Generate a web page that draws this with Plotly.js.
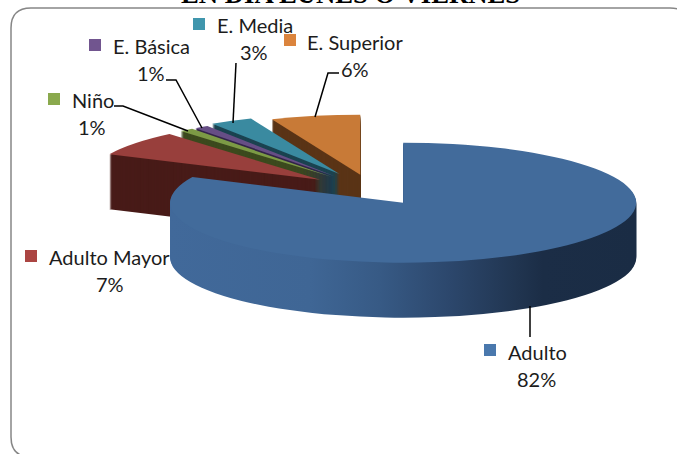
<!DOCTYPE html>
<html>
<head>
<meta charset="utf-8">
<script src="https://cdn.plot.ly/plotly-3.0.1.min.js"></script>
<style>html,body{margin:0;padding:0;background:#fff;overflow:hidden}#chart{width:677px;height:454px}</style>
</head>
<body>
<div id="chart"></div>
<script>
// Data
var categories = ['Adulto', 'Adulto Mayor', 'Niño', 'E. Básica', 'E. Media', 'E. Superior'];
var values = [82, 6.8, 1, 1, 3, 6.2];
var percentLabels = ['82%', '7%', '1%', '1%', '3%', '6%'];
var explode = [0.25, 0.28, 0.28, 0.28, 0.3, 0.26];
var topColors = ['#426b9b', '#983f3c', '#7c9a45', '#664e85', '#3a8aa0', '#c87a37'];
var sideColors = ['#2f4c73', '#481b18', '#3c4a1e', '#33244a', '#1b4350', '#5a3416'];
var keyColors = ['#4a78ad', '#ab4542', '#8aa94d', '#71558f', '#4096ad', '#db843d'];
var titleText = 'EN DIA LUNES O VIERNES';

var W = 677, H = 454;
var depth = 55, clear = 'rgba(0,0,0,0)';
var px = function (x) { return x / W; }, py = function (y) { return 1 - y / H; };

function pieLayer(colors) {
  return {
    type: 'pie', values: values, labels: categories, sort: false, direction: 'clockwise',
    rotation: 0, pull: explode, textinfo: 'none', hoverinfo: 'skip', showlegend: false,
    marker: { colors: colors, line: { width: 0 } }
  };
}
var data = [];
function only(cols, keep) { return cols.map(function (c, i) { return keep(i) ? c : clear; }); }
// The cut-away slices are painted first, the big slice in front of them
[function (i) { return i > 0; }, function (i) { return i === 0; }].forEach(function (keep) {
  for (var d = depth; d >= 0; d--) data.push(pieLayer(only(d === 0 ? topColors : sideColors, keep)));
});

// Leader lines and label placement (pixels in the picture)
var leaders = [
  [[530, 306], [530, 337]],
  [[315, 117], [328, 73], [339, 73]],
  [[233, 123], [236, 63]],
  [[202, 128], [176, 80], [166, 80]],
  [[188, 131], [123, 106], [114, 106]]
];
var labelPlace = [
  { key: [484, 344], name: [507, 352], pct: [536, 379] },
  { key: [25, 250], name: [48, 257], pct: [110, 284] },
  { key: [48, 93], name: [71, 100], pct: [92, 127] },
  { key: [89, 39], name: [112, 46], pct: [151, 73] },
  { key: [193, 18], name: [216, 25], pct: [254, 52] },
  { key: [284, 34], name: [306, 42], pct: [355, 69] }
];

var shapes = [];
var L = 11, T = 8, R = 690, B = 457, r = 20;
shapes.push({
  type: 'path', xref: 'paper', yref: 'paper', line: { color: '#868686', width: 1.5 },
  path: 'M' + px(L + r) + ',' + py(T) + ' L' + px(R - r) + ',' + py(T) +
    ' Q' + px(R) + ',' + py(T) + ' ' + px(R) + ',' + py(T + r) +
    ' L' + px(R) + ',' + py(B - r) + ' Q' + px(R) + ',' + py(B) + ' ' + px(R - r) + ',' + py(B) +
    ' L' + px(L + r) + ',' + py(B) + ' Q' + px(L) + ',' + py(B) + ' ' + px(L) + ',' + py(B - r) +
    ' L' + px(L) + ',' + py(T + r) + ' Q' + px(L) + ',' + py(T) + ' ' + px(L + r) + ',' + py(T) + ' Z'
});
leaders.forEach(function (pts) {
  shapes.push({
    type: 'path', xref: 'paper', yref: 'paper', line: { color: '#000', width: 1.5 },
    path: pts.map(function (p, i) { return (i ? 'L' : 'M') + px(p[0]) + ',' + py(p[1]); }).join(' ')
  });
});

var labelFont = { family: 'Lato, "Open Sans", sans-serif', size: 20, color: '#1c1c1c' };
var annotations = [];
categories.forEach(function (c, i) {
  var p = labelPlace[i];
  shapes.push({
    type: 'rect', xref: 'paper', yref: 'paper', line: { width: 0 }, fillcolor: keyColors[i],
    x0: px(p.key[0]), x1: px(p.key[0] + 12), y0: py(p.key[1]), y1: py(p.key[1] + 12)
  });
  annotations.push({
    xref: 'paper', yref: 'paper', x: px(p.name[0]), y: py(p.name[1]), xanchor: 'left', yanchor: 'middle',
    text: c, showarrow: false, font: labelFont, borderpad: 0
  });
  annotations.push({
    xref: 'paper', yref: 'paper', x: px(p.pct[0]), y: py(p.pct[1]), xanchor: 'center', yanchor: 'middle',
    text: percentLabels[i], showarrow: false, font: labelFont, borderpad: 0
  });
});
annotations.push({
  xref: 'paper', yref: 'paper', x: px(350), y: py(10), xanchor: 'center', yanchor: 'bottom',
  text: '<b>' + titleText + '</b>', showarrow: false, borderpad: 0,
  font: { family: '"Liberation Serif", serif', size: 26.7, color: '#000' }
});

var layout = {
  width: W, height: H, margin: { l: 0, r: 0, t: 0, b: 0 }, paper_bgcolor: '#fff', showlegend: false,
  shapes: shapes, annotations: annotations
};

Plotly.newPlot('chart', data, layout, { staticPlot: true, displayModeBar: false }).then(function () {
  var svg = document.querySelector('#chart .main-svg');
  var NS = 'http://www.w3.org/2000/svg';
  var grad = document.createElementNS(NS, 'linearGradient');
  grad.setAttribute('id', 'adultoSide');
  [[0, '#41699a'], [0.3, '#3f6695'], [0.45, '#375a85'], [0.6, '#2c476c'], [0.75, '#20344f'], [0.8, '#1b2d46'], [1, '#1a2c44']]
    .forEach(function (s) {
      var st = document.createElementNS(NS, 'stop');
      st.setAttribute('offset', s[0]);
      st.setAttribute('stop-color', s[1]);
      grad.appendChild(st);
    });
  var defs = svg.querySelector('defs') || svg.insertBefore(document.createElementNS(NS, 'defs'), svg.firstChild);
  defs.appendChild(grad);

  // Tilt the flat pies: squash them into an ellipse and stack them to give depth
  var maxPull = Math.max.apply(null, explode);
  var cx0 = W / 2, cy0 = H / 2, r0 = (H / 2) / (1 + maxPull);
  var sx = 233 / r0, sy = 60 / r0, cx = 372, cy = 190;
  var traces = document.querySelectorAll('#chart .pielayer > .trace');
  var n = depth + 1;
  traces.forEach(function (t, i) {
    var d = depth - (i % n);
    t.setAttribute('transform', 'translate(' + cx + ',' + (cy + d) + ') scale(' + sx + ',' + sy + ') translate(' + (-cx0) + ',' + (-cy0) + ')');
    if (i >= n && d > 0) {
      var path = t.querySelector('.slice path');
      if (path) path.style.fill = 'url(#adultoSide)';
    }
  });
});
</script>
</body>
</html>
